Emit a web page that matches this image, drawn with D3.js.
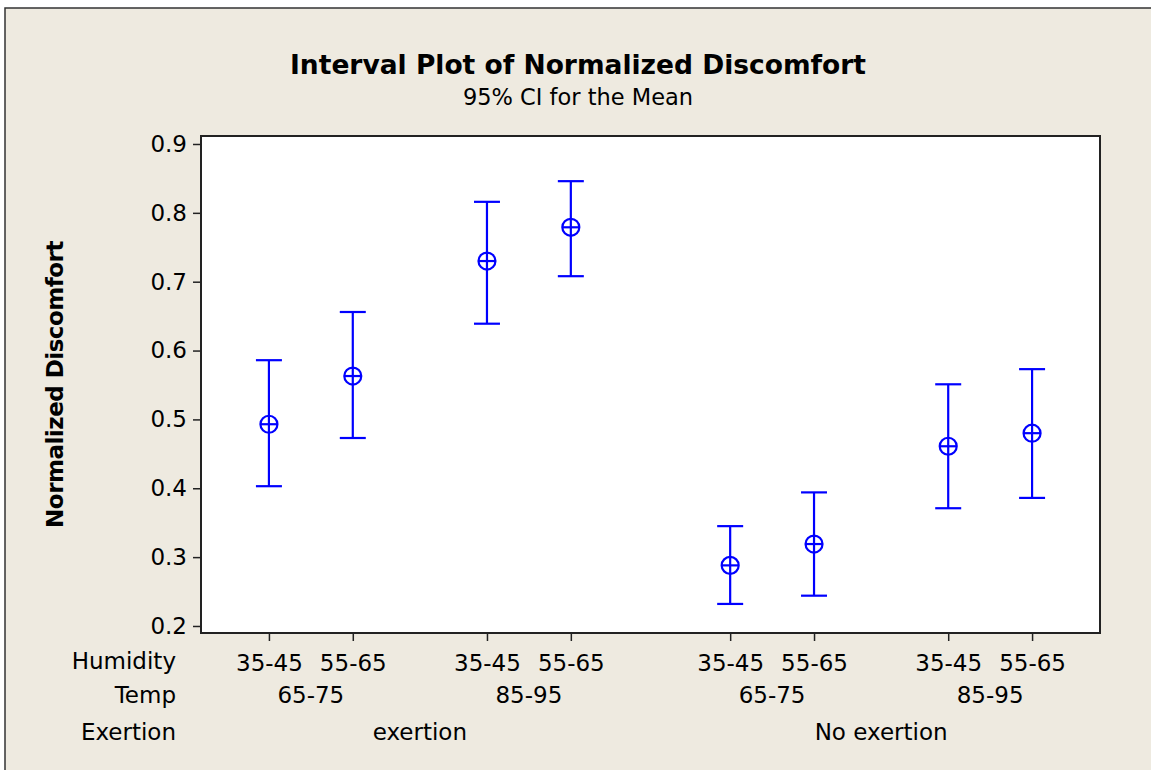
<!DOCTYPE html>
<html>
<head>
<meta charset="utf-8">
<script src="https://cdnjs.cloudflare.com/ajax/libs/d3/7.8.5/d3.min.js"></script>
<style>
  body { margin: 0; background: #fff; }
  text { font-family: "DejaVu Sans", sans-serif; fill: #000; }
</style>
</head>
<body>
<div id="chart"></div>
<script>
// data
var humidity = ["35-45", "55-65", "35-45", "55-65", "35-45", "55-65", "35-45", "55-65"];
var temps = ["65-75", "85-95", "65-75", "85-95"];
var exertion = ["exertion", "No exertion"];
// slot positions (Minitab leaves wider gaps between groups)
var slots = [0, 1, 2.6, 3.6, 5.5, 6.5, 8.1, 9.1];
var means = [0.493, 0.563, 0.730, 0.779, 0.288, 0.319, 0.461, 0.480];
var lower = [0.403, 0.473, 0.639, 0.708, 0.232, 0.244, 0.371, 0.386];
var upper = [0.586, 0.656, 0.816, 0.846, 0.345, 0.394, 0.551, 0.573];
var yTicks = [0.2, 0.3, 0.4, 0.5, 0.6, 0.7, 0.8, 0.9];

var width = 1151, height = 770;
var plot = {left: 201, top: 136, right: 1100, bottom: 633};

var svg = d3.select("#chart").append("svg")
    .attr("width", width)
    .attr("height", height);

// beige panel with border
svg.append("rect")
    .attr("x", 5).attr("y", 8)
    .attr("width", width + 10).attr("height", height + 10)
    .style("fill", "#eeeae0")
    .style("stroke", "#333")
    .style("stroke-width", 1.5);

var x = d3.scaleLinear()
    .domain([-0.81, 9.91])
    .range([plot.left, plot.right]);

var y = d3.scaleLinear()
    .domain([0.1898, 0.9116])
    .range([plot.bottom, plot.top]);

// white plotting area
svg.append("rect")
    .attr("x", plot.left).attr("y", plot.top)
    .attr("width", plot.right - plot.left)
    .attr("height", plot.bottom - plot.top)
    .style("fill", "#fff");

// y axis
var yAxis = svg.append("g")
    .attr("transform", `translate(${plot.left},0)`)
    .call(d3.axisLeft(y).tickValues(yTicks).tickFormat(d3.format(".1f")).tickSize(8).tickPadding(6));
yAxis.select(".domain").remove();
yAxis.selectAll("line").style("stroke", "#222").style("stroke-width", 1.5);
yAxis.selectAll("text").style("font-size", "23px").style("font-family", "DejaVu Sans");

// x axis (humidity row)
var xAxis = svg.append("g")
    .attr("transform", `translate(0,${plot.bottom})`)
    .call(d3.axisBottom(x).tickValues(slots).tickFormat(function(d, i) { return humidity[i]; }).tickSize(8).tickPadding(14));
xAxis.select(".domain").remove();
xAxis.selectAll("line").style("stroke", "#222").style("stroke-width", 1.5);
xAxis.selectAll("text").style("font-size", "23px").style("font-family", "DejaVu Sans");

// frame
svg.append("rect")
    .attr("x", plot.left).attr("y", plot.top)
    .attr("width", plot.right - plot.left)
    .attr("height", plot.bottom - plot.top)
    .style("fill", "none")
    .style("stroke", "#222")
    .style("stroke-width", 2);

// temp row
svg.selectAll(".temp")
    .data(temps)
    .enter().append("text")
    .attr("class", "temp")
    .attr("x", function(d, i) { return x((slots[2 * i] + slots[2 * i + 1]) / 2); })
    .attr("y", 703)
    .attr("text-anchor", "middle")
    .style("font-size", "23px")
    .text(function(d) { return d; });

// exertion row
svg.selectAll(".exer")
    .data(exertion)
    .enter().append("text")
    .attr("class", "exer")
    .attr("x", function(d, i) { return x((slots[4 * i] + slots[4 * i + 3]) / 2); })
    .attr("y", 740)
    .attr("text-anchor", "middle")
    .style("font-size", "23px")
    .text(function(d) { return d; });

// row labels
var rowNames = ["Humidity", "Temp", "Exertion"];
var rowY = [669, 703, 740];
svg.selectAll(".rowname")
    .data(rowNames)
    .enter().append("text")
    .attr("class", "rowname")
    .attr("x", 176)
    .attr("y", function(d, i) { return rowY[i]; })
    .attr("text-anchor", "end")
    .style("font-size", "23px")
    .text(function(d) { return d; });

// titles
svg.append("text")
    .attr("x", 578).attr("y", 74)
    .attr("text-anchor", "middle")
    .style("font-size", "26.5px")
    .style("font-weight", "bold")
    .text("Interval Plot of Normalized Discomfort");

svg.append("text")
    .attr("x", 578).attr("y", 105)
    .attr("text-anchor", "middle")
    .style("font-size", "22.5px")
    .text("95% CI for the Mean");

svg.append("text")
    .attr("transform", `translate(63,${(plot.top + plot.bottom) / 2}) rotate(-90)`)
    .attr("text-anchor", "middle")
    .style("font-size", "23px")
    .style("font-weight", "bold")
    .style("letter-spacing", "-0.5px")
    .text("Normalized Discomfort");

// interval bars
var blue = "#0000ff";
var cap = 13, r = 8.5;
var g = svg.selectAll(".interval")
    .data(means)
    .enter().append("g")
    .attr("class", "interval");

g.append("line")
    .attr("x1", function(d, i) { return x(slots[i]); })
    .attr("x2", function(d, i) { return x(slots[i]); })
    .attr("y1", function(d, i) { return y(lower[i]); })
    .attr("y2", function(d, i) { return y(upper[i]); })
    .style("stroke", blue).style("stroke-width", 2.2);

g.append("line")
    .attr("x1", function(d, i) { return x(slots[i]) - cap; })
    .attr("x2", function(d, i) { return x(slots[i]) + cap; })
    .attr("y1", function(d, i) { return y(upper[i]); })
    .attr("y2", function(d, i) { return y(upper[i]); })
    .style("stroke", blue).style("stroke-width", 2.2);

g.append("line")
    .attr("x1", function(d, i) { return x(slots[i]) - cap; })
    .attr("x2", function(d, i) { return x(slots[i]) + cap; })
    .attr("y1", function(d, i) { return y(lower[i]); })
    .attr("y2", function(d, i) { return y(lower[i]); })
    .style("stroke", blue).style("stroke-width", 2.2);

g.append("circle")
    .attr("cx", function(d, i) { return x(slots[i]); })
    .attr("cy", function(d) { return y(d); })
    .attr("r", r)
    .style("fill", "none")
    .style("stroke", blue).style("stroke-width", 2.2);

g.append("line")
    .attr("x1", function(d, i) { return x(slots[i]) - r; })
    .attr("x2", function(d, i) { return x(slots[i]) + r; })
    .attr("y1", function(d) { return y(d); })
    .attr("y2", function(d) { return y(d); })
    .style("stroke", blue).style("stroke-width", 2.2);
</script>
</body>
</html>
